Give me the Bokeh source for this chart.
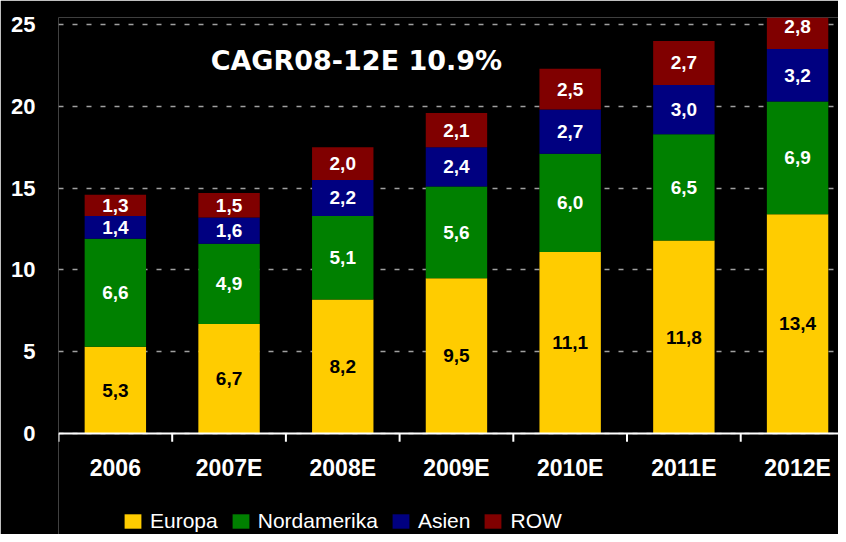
from bokeh.plotting import figure
from bokeh.models import ColumnDataSource, FixedTicker, Legend, LegendItem, Label, Span
from bokeh.core.properties import value
from bokeh.embed import file_html
from bokeh.resources import INLINE

years = ["2006", "2007E", "2008E", "2009E", "2010E", "2011E", "2012E"]
europa = [5.3, 6.7, 8.2, 9.5, 11.1, 11.8, 13.4]
nordamerika = [6.6, 4.9, 5.1, 5.6, 6.0, 6.5, 6.9]
asien = [1.4, 1.6, 2.2, 2.4, 2.7, 3.0, 3.2]
row = [1.3, 1.5, 2.0, 2.1, 2.5, 2.7, 2.8]
series_names = ["Europa", "Nordamerika", "Asien", "ROW"]
series_values = [europa, nordamerika, asien, row]
colors = ["#FFCC00", "#008000", "#000080", "#800000"]
label_colors = ["#000000", "#FFFFFF", "#FFFFFF", "#FFFFFF"]
y_ticks = [0, 5, 10, 15, 20, 25]
title_text = "CAGR08-12E 10.9%"

xs = list(range(len(years)))
boundaries = [i - 0.5 for i in range(len(years) + 1)]

p = figure(width=838, height=534, x_range=(-0.5, 6.36), y_range=(-6.17, 25.43),
           output_backend="svg", toolbar_location=None,
           min_border_left=58, min_border_right=0, min_border_top=17, min_border_bottom=0)
p.background_fill_color = "black"
p.border_fill_color = "black"
p.outline_line_color = None

p.xaxis.visible = False
p.xgrid.grid_line_color = None

# y axis
yax = p.yaxis[0]
yax.ticker = FixedTicker(ticks=y_ticks)
yax.axis_line_color = None
yax.major_tick_line_color = None
yax.minor_tick_line_color = None
yax.major_label_text_color = "white"
yax.major_label_text_font = "Liberation Sans"
yax.major_label_text_font_style = "bold"
yax.major_label_text_font_size = "22px"
yax.major_label_standoff = 17

p.ygrid.grid_line_color = "#A0A0A0"
p.ygrid.grid_line_dash = "5 9"
p.ygrid.grid_line_width = 1.5

# bars
items = []
bottom = [0.0] * len(years)
for name, vals, col, lcol in zip(series_names, series_values, colors, label_colors):
    top = [b + v for b, v in zip(bottom, vals)]
    mid = [(b + t) / 2 for b, t in zip(bottom, top)]
    src = ColumnDataSource(dict(x=xs, bottom=bottom, top=top, mid=mid,
                                lab=[f"{v:.1f}".replace(".", ",") for v in vals]))
    r = p.vbar(x="x", bottom="bottom", top="top", width=0.54, source=src,
               fill_color=col, line_color=None)
    p.text(x="x", y="mid", text="lab", source=src, text_align="center", text_baseline="middle",
           text_color=lcol, text_font=value("Liberation Sans"), text_font_style="bold",
           text_font_size="19px")
    items.append(LegendItem(label=name, renderers=[r]))
    bottom = top

# category axis drawn at zero
p.add_layout(Span(location=0, dimension="width", line_color="white", line_width=2))
p.segment(x0=boundaries, y0=[0] * len(boundaries), x1=boundaries, y1=[-0.5] * len(boundaries),
          line_color="white", line_width=2)
p.text(x=xs, y=[-2.1] * len(xs), text=years, text_align="center", text_baseline="middle",
       text_color="white", text_font=value("Liberation Sans"), text_font_style="bold",
       text_font_size="23px")

title = Label(x=2.12, y=22.8, text=title_text, text_color="white", text_font="DejaVu Sans",
              text_font_style="bold", text_font_size="27px", text_align="center",
              text_baseline="middle")
p.add_layout(title)

legend = Legend(items=items, orientation="horizontal", location=(64, 1),
                background_fill_alpha=0, border_line_color=None,
                label_text_color="white", label_text_font="Liberation Sans",
                label_text_font_size="21px", glyph_width=21, glyph_height=18,
                label_standoff=7, spacing=12, padding=0, margin=0)
p.add_layout(legend)

open("out.html", "w").write(file_html(p, INLINE))
